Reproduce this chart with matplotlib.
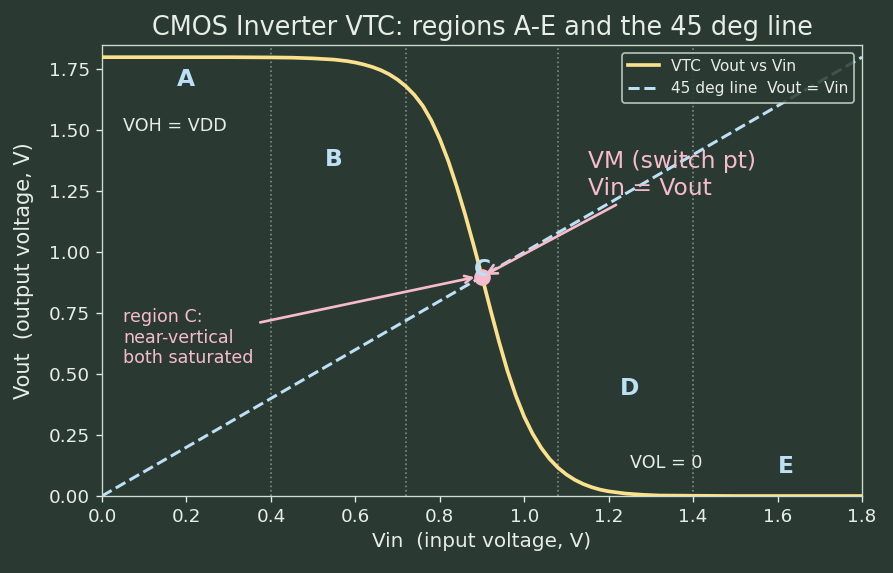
from matplotlib import pyplot as plt

# VTC
vin = [0.00, 0.30, 0.40, 0.45, 0.50, 0.55, 0.58, 0.60, 0.62, 0.64, 0.66, 0.68,
       0.70, 0.72, 0.74, 0.76, 0.78, 0.80, 0.82, 0.84, 0.86, 0.88, 0.90, 0.92,
       0.94, 0.96, 0.98, 1.00, 1.02, 1.04, 1.06, 1.08, 1.10, 1.12, 1.14, 1.16,
       1.18, 1.20, 1.24, 1.28, 1.32, 1.40, 1.50, 1.80]
vout = [1.800, 1.800, 1.799, 1.798, 1.795, 1.790, 1.784, 1.778, 1.770, 1.760,
        1.747, 1.730, 1.708, 1.680, 1.645, 1.600, 1.540, 1.465, 1.375, 1.270,
        1.155, 1.030, 0.900, 0.765, 0.635, 0.515, 0.412, 0.325, 0.255, 0.198,
        0.152, 0.116, 0.088, 0.066, 0.049, 0.036, 0.026, 0.019, 0.010, 0.005,
        0.002, 0.001, 0.000, 0.000]

diag = [0.0, 1.8]
boundaries = [0.4, 0.72, 1.08, 1.4]
vm = (0.9, 0.9)

region_names = ['A', 'B', 'C', 'D', 'E']
region_pos = [(0.2, 1.71), (0.55, 1.38), (0.9, 0.93), (1.25, 0.44), (1.62, 0.12)]

BG = '#2a3a32'
FG = '#e6eee6'
YELLOW = '#fbe18c'
BLUE = '#bde0f6'
PINK = '#f6bccd'

plt.rcParams['font.family'] = 'DejaVu Sans'


def main():
	fig = plt.figure(figsize=(893 / 120, 573 / 120), dpi=120, facecolor=BG)
	ax = fig.add_axes([0.1142, 0.1344, 0.8511, 0.7871])
	ax.set_facecolor(BG)

	for b in boundaries:
		ax.axvline(b, color='#7d9085', ls=':', lw=1.0, zorder=1)

	ax.plot(vin, vout, color=YELLOW, lw=2.2, label='VTC  Vout vs Vin', zorder=3)
	ax.plot(diag, diag, color=BLUE, lw=1.8, ls='--', label='45 deg line  Vout = Vin', zorder=2)
	ax.plot([vm[0]], [vm[1]], 'o', color=PINK, ms=9, zorder=4)

	for name, (x, y) in zip(region_names, region_pos):
		ax.text(x, y, name, color=BLUE, fontsize=14, fontweight='bold',
				ha='center', va='center', zorder=5)

	ax.text(0.05, 1.516, 'VOH = VDD', color=FG, fontsize=10.5, va='center')
	ax.text(1.25, 0.135, 'VOL = 0', color=FG, fontsize=10.5, va='center')

	ax.annotate('VM (switch pt)\nVin = Vout', xy=vm, xytext=(1.15, 1.316),
				color=PINK, fontsize=14, ha='left', va='center',
				arrowprops=dict(arrowstyle='->', color=PINK, lw=1.6), zorder=6)
	ax.annotate('region C:\nnear-vertical\nboth saturated', xy=(0.89, 0.9),
				xytext=(0.05, 0.65), color=PINK, fontsize=10.5, ha='left', va='center',
				arrowprops=dict(arrowstyle='->', color=PINK, lw=1.6), zorder=6)

	ax.set_xlim(0, 1.8)
	ax.set_ylim(0, 1.85)
	ax.set_xticks([0.0, 0.2, 0.4, 0.6, 0.8, 1.0, 1.2, 1.4, 1.6, 1.8])
	ax.set_yticks([0.0, 0.25, 0.5, 0.75, 1.0, 1.25, 1.5, 1.75])
	ax.set_yticklabels(['0.00', '0.25', '0.50', '0.75', '1.00', '1.25', '1.50', '1.75'])
	ax.tick_params(colors=FG, labelsize=11)
	for s in ax.spines.values():
		s.set_color('#cfdccf')

	ax.set_xlabel('Vin  (input voltage, V)', color=FG, fontsize=12)
	ax.set_ylabel('Vout  (output voltage, V)', color=FG, fontsize=12.5, labelpad=9)
	ax.set_title('CMOS Inverter VTC: regions A-E and the 45 deg line', color=FG, fontsize=15.3)

	legend = ax.legend(loc='upper right', fontsize=9.2, facecolor=BG, edgecolor='#cfdccf',
					   framealpha=0.85, labelcolor=FG)
	legend.set_zorder(10)

	fig.savefig('out.png', dpi=120, facecolor=BG)


if __name__ == '__main__':
	main()
